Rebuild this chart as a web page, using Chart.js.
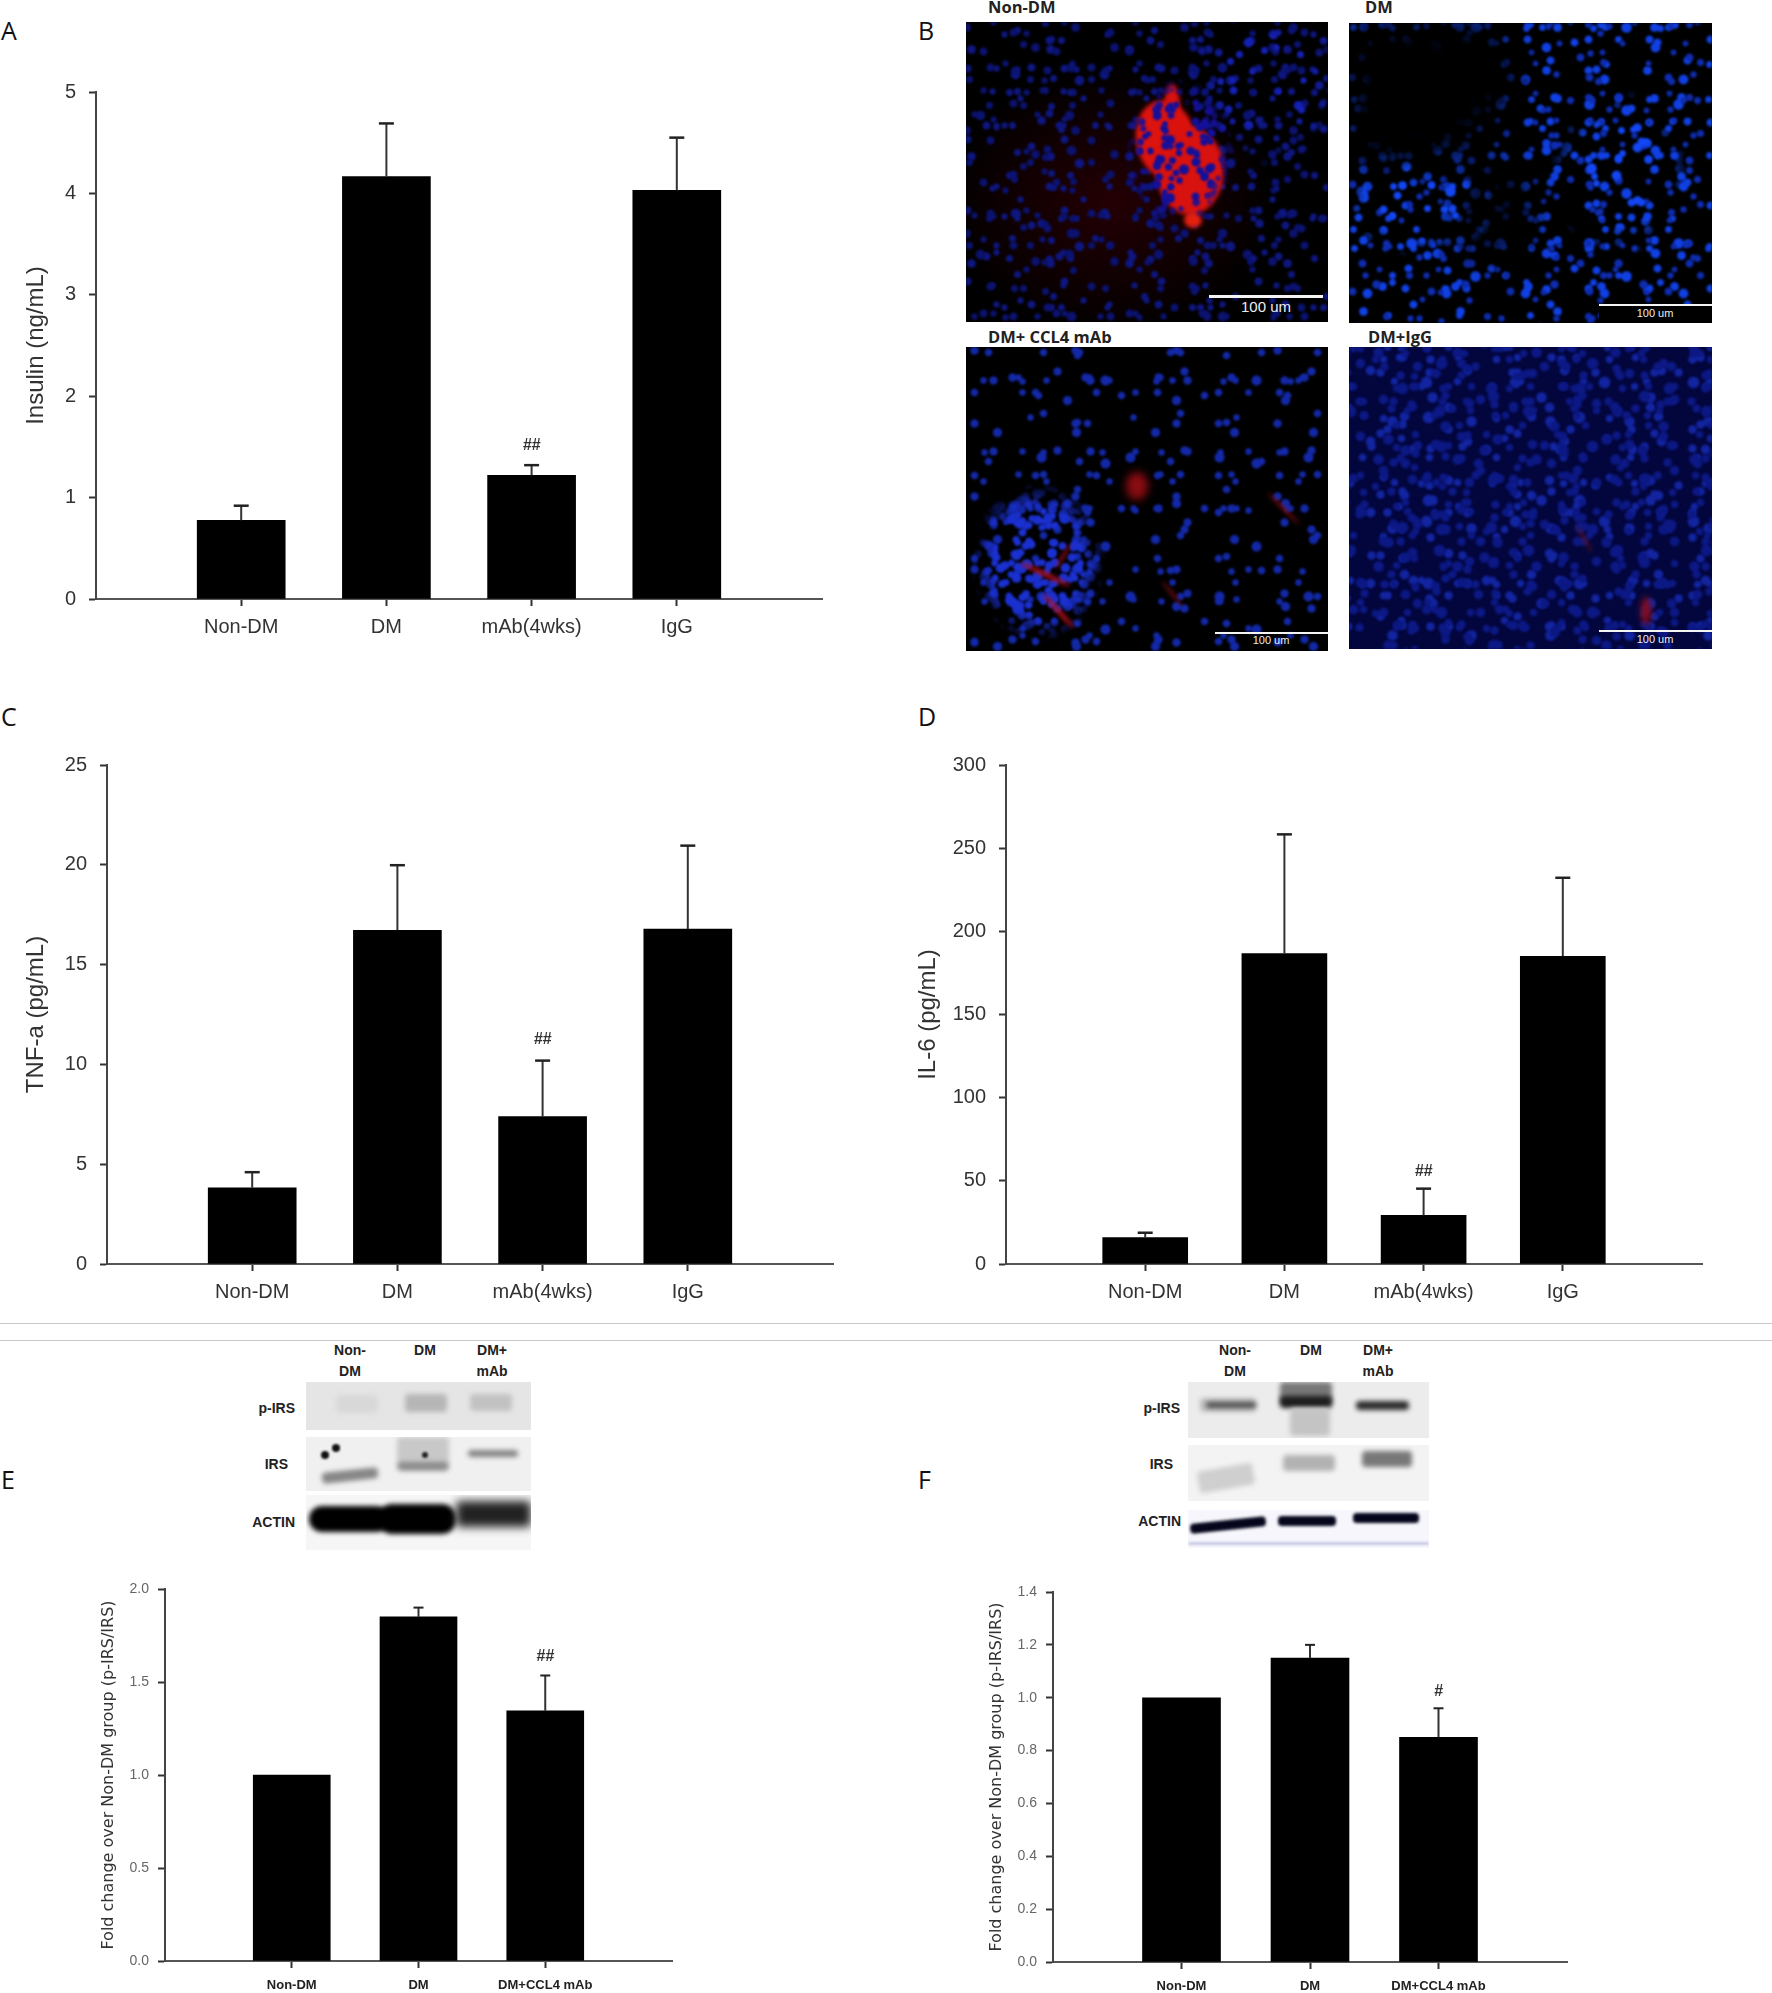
<!DOCTYPE html>
<html>
<head>
<meta charset="utf-8">
<title>CCL4 mAb panels</title>
<script src="https://cdn.jsdelivr.net/npm/chart.js@4"></script>
<style>
html, body { margin: 0; padding: 0; background: #fff; }
#page { position: relative; width: 1772px; height: 1993px; overflow: hidden; font-family: "Liberation Sans", sans-serif; }
canvas { position: absolute; filter: blur(0.4px); }
.letter { position: absolute; font: 25px "Open Sans", sans-serif; color: #111; line-height: 30px; }
.rule { position: absolute; left: 0; width: 1772px; height: 1px; background: #c9c9c9; }
.tag { position: absolute; font: bold 16.5px "Open Sans", sans-serif; color: #222; line-height: 18px; white-space: nowrap; }
.micro { position: absolute; background: #000; overflow: hidden; }
.micro div { position: absolute; inset: 0; }
.micro .cells { filter: blur(1.2px); }
.micro .red { inset: auto; filter: blur(2px); border-radius: 50%; }
.bar100 { position: absolute; height: 3px; background: #f4f4f4; }
.um { position: absolute; color: #eee; text-align: center; white-space: nowrap; }
.blot { position: absolute; overflow: hidden; }
.band { position: absolute; filter: blur(2.5px); border-radius: 4px; }
.blab { position: absolute; font: bold 14px "Liberation Sans", sans-serif; color: #222; text-align: center; line-height: 21px; white-space: nowrap; }
</style>
</head>
<body>
<div id="page">
  <div class="letter" style="left:1px;top:15px">A</div>
  <div class="letter" style="left:918px;top:15px">B</div>
  <div class="letter" style="left:1px;top:701px">C</div>
  <div class="letter" style="left:918px;top:701px">D</div>
  <div class="letter" style="left:1px;top:1464px">E</div>
  <div class="letter" style="left:918px;top:1464px">F</div>

  <div class="rule" style="top:1323px"></div>
  <div class="rule" style="top:1340px"></div>

  <!-- micrographs of panel B -->
  <div class="tag" style="left:988px;top:-2px">Non-DM</div>
  <div class="tag" style="left:1365px;top:-2px">DM</div>
  <div class="tag" style="left:988px;top:328px">DM+ CCL4 mAb</div>
  <div class="tag" style="left:1368px;top:328px">DM+IgG</div>

  <div class="micro" style="left:966px;top:22px;width:362px;height:300px">
    <div style="background:radial-gradient(ellipse at 40% 60%, rgba(90,0,10,.4), transparent 55%)"></div>
    <div class="cells" data-color="#0e1680" data-seed="1" data-r="0.8"></div>
    <div class="cells" data-color="#0b1270" data-seed="12" data-r="0.8"></div>
    <div class="cells" data-color="#1420b4" data-seed="14" data-r="0.8" style="mask-image:radial-gradient(ellipse 90px 90px at 300px 60px,#000 50%,transparent 100%)"></div>
    <div class="red" style="left:170px;top:78px;width:60px;height:80px;background:#dd130d;transform:rotate(-12deg)"></div>
    <div class="red" style="left:190px;top:105px;width:68px;height:88px;background:#d8120e"></div>
    <div class="red" style="left:198px;top:62px;width:16px;height:44px;background:#d8120e"></div>
    <div class="red" style="left:218px;top:190px;width:18px;height:16px;background:#e3200e"></div>
    <div class="cells" data-color="#14109a" data-seed="4" data-scale="0.7" data-r="0.85" style="mask-image:radial-gradient(ellipse 55px 75px at 214px 130px,#000 70%,transparent 100%)"></div>
    <div class="cells" data-color="#14109a" data-seed="7" data-scale="0.7" data-r="0.7" style="mask-image:radial-gradient(ellipse 55px 75px at 214px 130px,#000 70%,transparent 100%)"></div>
  </div>
  <div class="bar100" style="left:1209px;top:295px;width:114px"></div>
  <div class="um" style="left:1236px;top:298px;width:60px;font:15px 'Liberation Sans',sans-serif">100 um</div>

  <div class="micro" style="left:1349px;top:23px;width:363px;height:300px">
    <div class="cells" data-color="#1040e4" data-seed="2" data-r="0.9"></div>
    <div class="cells" data-color="#0e2cb0" data-seed="13" data-r="0.7"></div>
    <div style="filter:blur(16px);background:radial-gradient(ellipse 36% 32% at 12% 18%, #000 0 85%, transparent 100%),radial-gradient(ellipse 13% 18% at 40% 62%, rgba(0,0,0,.8) 0 80%, transparent 100%)"></div>
    <div class="cells" data-color="#1246f4" data-seed="5" data-r="0.9" style="mask-image:radial-gradient(ellipse 85px 55px at 70px 180px,#000 60%,transparent 100%)"></div>
    <div class="cells" data-color="#1246f4" data-seed="9" data-r="0.9" style="mask-image:radial-gradient(ellipse 70px 85px at 270px 150px,#000 60%,transparent 100%)"></div>
    <div style="left:250px;top:282px;background:#000"></div>
  </div>
  <div class="bar100" style="left:1599px;top:304px;width:113px;height:2px"></div>
  <div class="um" style="left:1625px;top:307px;width:60px;font:11px 'Liberation Sans',sans-serif">100 um</div>

  <div class="micro" style="left:966px;top:347px;width:362px;height:304px">
    <div class="cells" data-color="#1328a8" data-seed="3" data-r="0.85"></div>
    <div class="cells" data-color="#1a30d0" data-seed="6" data-scale="0.6" data-r="0.9" style="mask-image:radial-gradient(ellipse 68px 80px at 72px 215px,#000 65%,transparent 100%)"></div>
    <div class="cells" data-color="#1a30d0" data-seed="8" data-scale="0.6" data-r="0.9" style="mask-image:radial-gradient(ellipse 68px 80px at 72px 215px,#000 65%,transparent 100%)"></div>
    <div class="red" style="left:70px;top:262px;width:45px;height:4px;background:#c8101c;transform:rotate(48deg)"></div>
    <div class="red" style="left:52px;top:225px;width:55px;height:5px;background:#a80e1a;transform:rotate(25deg)"></div>
    <div class="red" style="left:82px;top:208px;width:30px;height:3px;background:#a00e18;transform:rotate(-60deg)"></div>
    <div class="red" style="left:160px;top:125px;width:22px;height:28px;background:#8a0c12;filter:blur(4px)"></div>
    <div class="red" style="left:295px;top:160px;width:45px;height:3px;background:#8a0c12;transform:rotate(45deg)"></div>
    <div class="red" style="left:190px;top:245px;width:32px;height:3px;background:#7a0c12;transform:rotate(50deg)"></div>
  </div>
  <div class="bar100" style="left:1215px;top:632px;width:113px;height:2px"></div>
  <div class="um" style="left:1241px;top:634px;width:60px;font:11px 'Liberation Sans',sans-serif">100 um</div>

  <div class="micro" style="left:1349px;top:347px;width:363px;height:302px">
    <div style="background:#03063c"></div>
    <div class="cells" data-color="#1224a0" data-seed="10"></div>
    <div class="cells" data-color="#0c1884" data-seed="11"></div>
    <div class="cells" data-color="#0c1884" data-seed="15"></div>
    <div class="red" style="left:292px;top:250px;width:10px;height:28px;background:#8a0c18;filter:blur(3px)"></div>
    <div class="red" style="left:220px;top:190px;width:30px;height:3px;background:#60101c;transform:rotate(60deg)"></div>
  </div>
  <div class="bar100" style="left:1599px;top:630px;width:113px;height:2px"></div>
  <div class="um" style="left:1625px;top:633px;width:60px;font:11px 'Liberation Sans',sans-serif">100 um</div>

  <!-- western blots of panel E -->
  <div class="blab" style="left:325px;top:1340px;width:50px">Non-<br>DM</div>
  <div class="blab" style="left:400px;top:1340px;width:50px">DM</div>
  <div class="blab" style="left:467px;top:1340px;width:50px">DM+<br>mAb</div>
  <div class="blab" style="left:245px;top:1398px;width:50px;text-align:right">p-IRS</div>
  <div class="blab" style="left:238px;top:1454px;width:50px;text-align:right">IRS</div>
  <div class="blab" style="left:235px;top:1512px;width:60px;text-align:right">ACTIN</div>

  <div class="blot" style="left:306px;top:1382px;width:225px;height:48px;background:#e5e5e5">
    <div class="band" style="left:30px;top:13px;width:42px;height:18px;background:#d8d8d8"></div>
    <div class="band" style="left:99px;top:12px;width:42px;height:18px;background:#b6b6b6"></div>
    <div class="band" style="left:164px;top:12px;width:42px;height:17px;background:#c2c2c2"></div>
  </div>
  <div class="blot" style="left:306px;top:1437px;width:225px;height:54px;background:#f0f0f0">
    <div class="band" style="left:16px;top:33px;width:56px;height:11px;background:#868686;transform:rotate(-6deg)"></div>
    <div class="band" style="left:91px;top:0;width:52px;height:34px;background:#c8c8c8"></div>
    <div class="band" style="left:92px;top:25px;width:50px;height:8px;background:#8a8a8a"></div>
    <div class="band" style="left:162px;top:13px;width:50px;height:7px;background:#858585"></div>
    <div class="band" style="left:15px;top:14px;width:8px;height:8px;background:#111;filter:blur(1px)"></div>
    <div class="band" style="left:26px;top:7px;width:8px;height:8px;background:#111;filter:blur(1px)"></div>
    <div class="band" style="left:116px;top:15px;width:6px;height:6px;background:#222;filter:blur(1px)"></div>
  </div>
  <div class="blot" style="left:306px;top:1495px;width:225px;height:55px;background:#f6f6f6">
    <div class="band" style="left:3px;top:11px;width:80px;height:26px;background:#000;border-radius:14px"></div>
    <div class="band" style="left:72px;top:9px;width:78px;height:30px;background:#000;border-radius:14px"></div>
    <div class="band" style="left:150px;top:6px;width:75px;height:26px;background:#222;filter:blur(5px)"></div>
  </div>

  <!-- western blots of panel F -->
  <div class="blab" style="left:1210px;top:1340px;width:50px">Non-<br>DM</div>
  <div class="blab" style="left:1286px;top:1340px;width:50px">DM</div>
  <div class="blab" style="left:1353px;top:1340px;width:50px">DM+<br>mAb</div>
  <div class="blab" style="left:1130px;top:1398px;width:50px;text-align:right">p-IRS</div>
  <div class="blab" style="left:1123px;top:1454px;width:50px;text-align:right">IRS</div>
  <div class="blab" style="left:1121px;top:1511px;width:60px;text-align:right">ACTIN</div>

  <div class="blot" style="left:1188px;top:1382px;width:241px;height:56px;background:#ececec">
    <div class="band" style="left:12px;top:16px;width:56px;height:14px;background:#bdbdbd"></div>
    <div class="band" style="left:18px;top:20px;width:50px;height:6px;background:#4e4e4e"></div>
    <div class="band" style="left:92px;top:0;width:52px;height:22px;background:#777"></div>
    <div class="band" style="left:92px;top:14px;width:52px;height:12px;background:#1d1d1d"></div>
    <div class="band" style="left:102px;top:26px;width:40px;height:28px;background:#c4c4c4"></div>
    <div class="band" style="left:168px;top:19px;width:53px;height:9px;background:#2b2b2b"></div>
  </div>
  <div class="blot" style="left:1188px;top:1445px;width:241px;height:56px;background:#f3f3f3">
    <div class="band" style="left:10px;top:22px;width:56px;height:22px;background:#cfcfcf;transform:rotate(-10deg)"></div>
    <div class="band" style="left:95px;top:10px;width:52px;height:16px;background:#b2b2b2"></div>
    <div class="band" style="left:174px;top:6px;width:50px;height:16px;background:#787878"></div>
  </div>
  <div class="blot" style="left:1188px;top:1510px;width:241px;height:38px;background:#f6f6fc">
    <div class="band" style="left:2px;top:10px;width:76px;height:10px;background:#05051c;filter:blur(1.5px);transform:rotate(-6deg)"></div>
    <div class="band" style="left:90px;top:6px;width:58px;height:10px;background:#05051c;filter:blur(1.5px)"></div>
    <div class="band" style="left:165px;top:3px;width:66px;height:10px;background:#05051c;filter:blur(1.5px)"></div>
    <div class="band" style="left:0;top:32px;width:241px;height:3px;background:#c9c9e8;filter:blur(1px)"></div>
  </div>
</div>

<script>
const groupsFour = ['Non-DM', 'DM', 'mAb(4wks)', 'IgG'];
const groupsThree = ['Non-DM', 'DM', 'DM+CCL4 mAb'];

const insulinMeans = [0.775, 4.165, 1.22, 4.03];
const insulinTops = [0.92, 4.69, 1.32, 4.55];
const insulinTicks = [0, 1, 2, 3, 4, 5];

const tnfMeans = [3.82, 16.72, 7.38, 16.78];
const tnfTops = [4.6, 19.98, 10.19, 20.96];
const tnfTicks = [0, 5, 10, 15, 20, 25];

const il6Means = [15.9, 186.6, 29.2, 185];
const il6Tops = [18.8, 258.3, 45.3, 232.2];
const il6Ticks = [0, 50, 100, 150, 200, 250, 300];

const foldLeftMeans = [1, 1.85, 1.345];
const foldLeftTops = [null, 1.9, 1.535];
const foldLeftTicks = [0, 0.5, 1, 1.5, 2];

const foldRightMeans = [1, 1.15, 0.85];
const foldRightTops = [null, 1.2, 0.96];
const foldRightTicks = [0, 0.2, 0.4, 0.6, 0.8, 1, 1.2, 1.4];

const bigText = { tick: 20, title: 24, titleFamily: 'Liberation Sans', cat: 20, catStyle: 'normal', tickColor: '#333', catColor: '#333', tickPad: 13, catPad: 9 };
const smallText = { tick: 14, title: 16, titleFamily: 'DejaVu Sans', cat: 13, catStyle: 'bold', tickColor: '#666', catColor: '#222', tickPad: 9, catPad: 10 };

// texture for the micrographs, tile sizes are coprime so the dots do not line up
const cellTiles = [[61,83,3.5],[97,71,4],[113,59,3],[79,107,4.5],[131,89,3.5],[67,127,3],[101,73,4],[89,139,5],[149,67,3.5],[71,97,3],
    [127,79,4],[83,113,3.5],[109,103,4.5],[59,149,3],[137,61,3.5],[73,131,4],[103,91,3],[151,83,5],[91,109,3.5],[63,101,3]];

document.querySelectorAll('.cells').forEach(el => {
    const seed = Number(el.dataset.seed);
    const k = Number(el.dataset.scale || 1);
    const q = Number(el.dataset.r || 1);
    el.style.background = cellTiles.map(([w, h, r], i) => {
        const tw = Math.round(w * k), th = Math.round(h * k);
        return `radial-gradient(circle, ${el.dataset.color} 0 ${r * q}px, transparent ${r * q + 1.5}px) ` +
            `${(i * 37 + seed * 13) % tw}px ${(i * 53 + seed * 29) % th}px/${tw}px ${th}px`;
    }).join(',');
});

// draws the error whiskers and the ## marks from the values, through the scales
const whiskers = {
    id: 'whiskers',
    afterDatasetsDraw(chart, args, opts) {
        const { ctx, scales } = chart;
        opts.tops.forEach((top, i) => {
            if (top === null) return;
            const x = scales.x.getPixelForValue(i + 1);
            const yTop = scales.y.getPixelForValue(top);
            const yBar = scales.y.getPixelForValue(opts.means[i]);
            ctx.save();
            ctx.strokeStyle = '#333';
            ctx.lineWidth = 2;
            ctx.beginPath();
            ctx.moveTo(x, yBar);
            ctx.lineTo(x, yTop);
            ctx.stroke();
            ctx.strokeStyle = '#222';
            ctx.lineWidth = opts.capWidth;
            ctx.beginPath();
            ctx.moveTo(x - opts.cap, yTop);
            ctx.lineTo(x + opts.cap, yTop);
            ctx.stroke();
            if (i === opts.markAt) {
                ctx.fillStyle = '#333';
                ctx.font = 'italic bold 16px "Liberation Sans"';
                ctx.textAlign = 'center';
                ctx.textBaseline = 'middle';
                ctx.fillText(opts.mark, x, yTop - opts.markGap);
            }
            ctx.restore();
        });
    }
};

function drawPanel(p) {
    const left = p.titleX - 20;
    const top = p.topY - 40;
    const canvas = document.createElement('canvas');
    canvas.width = p.rightX - left + 10;
    canvas.height = p.zeroY + 50 - top;
    canvas.style.left = left + 'px';
    canvas.style.top = top + 'px';
    document.getElementById('page').appendChild(canvas);

    const t = p.text;
    new Chart(canvas.getContext('2d'), {
        type: 'bar',
        data: {
            labels: ['', ...p.groups, ''],
            datasets: [{
                data: [null, ...p.means, null],
                backgroundColor: '#000',
                barThickness: p.barW
            }]
        },
        plugins: [whiskers],
        options: {
            responsive: false,
            animation: false,
            layout: { padding: { top: 40, right: 10, left: 0, bottom: 0 } },
            plugins: {
                legend: { display: false },
                tooltip: { enabled: false },
                whiskers: {
                    tops: p.tops, means: p.means, markAt: 2, mark: p.mark, markGap: p.markGap,
                    cap: p.cap, capWidth: p.capWidth
                }
            },
            scales: {
                x: {
                    offset: false,
                    afterFit: s => { s.height = 50; },
                    border: { color: '#555', width: 2 },
                    grid: {
                        offset: false,
                        drawOnChartArea: false,
                        tickLength: 7,
                        tickWidth: 2,
                        tickColor: c => (c.tick && c.tick.label ? '#333' : 'transparent')
                    },
                    ticks: {
                        autoSkip: false,
                        maxRotation: 0,
                        padding: t.catPad,
                        color: t.catColor,
                        font: { family: 'Liberation Sans', size: t.cat, weight: t.catStyle }
                    }
                },
                y: {
                    min: p.yTicks[0],
                    max: p.yTicks[p.yTicks.length - 1],
                    afterFit: s => { s.width = p.axisX - left; },
                    afterBuildTicks: s => { s.ticks = p.yTicks.map(v => ({ value: v })); },
                    border: { color: '#444', width: 2 },
                    grid: { drawOnChartArea: false, tickLength: 7, tickWidth: 2, tickColor: '#333' },
                    ticks: {
                        padding: t.tickPad,
                        color: t.tickColor,
                        font: { family: 'Liberation Sans', size: t.tick },
                        callback: v => v.toFixed(p.digits)
                    },
                    title: {
                        display: true,
                        text: p.title,
                        color: '#333',
                        font: { family: t.titleFamily, size: t.title },
                        padding: { top: 20 - t.title * 0.6, bottom: 0 }
                    }
                }
            }
        }
    });
}

drawPanel({ groups: groupsFour, means: insulinMeans, tops: insulinTops, yTicks: insulinTicks, digits: 0, title: 'Insulin (ng/mL)',
    titleX: 36, axisX: 96, topY: 92, zeroY: 599, rightX: 822, barW: 88, cap: 7.5, capWidth: 2.5, mark: '##', markGap: 20, text: bigText });
drawPanel({ groups: groupsFour, means: tnfMeans, tops: tnfTops, yTicks: tnfTicks, digits: 0, title: 'TNF-a (pg/mL)',
    titleX: 36, axisX: 107, topY: 765, zeroY: 1264, rightX: 833, barW: 88, cap: 7.5, capWidth: 2.5, mark: '##', markGap: 21, text: bigText });
drawPanel({ groups: groupsFour, means: il6Means, tops: il6Tops, yTicks: il6Ticks, digits: 0, title: 'IL-6 (pg/mL)',
    titleX: 928, axisX: 1006, topY: 765, zeroY: 1264, rightX: 1702, barW: 85, cap: 7.5, capWidth: 2.5, mark: '##', markGap: 17, text: bigText });
drawPanel({ groups: groupsThree, means: foldLeftMeans, tops: foldLeftTops, yTicks: foldLeftTicks, digits: 1, title: 'Fold change over Non-DM group (p-IRS/IRS)',
    titleX: 109, axisX: 165, topY: 1589, zeroY: 1961, rightX: 672, barW: 77, cap: 5, capWidth: 2, mark: '##', markGap: 19, text: smallText });
drawPanel({ groups: groupsThree, means: foldRightMeans, tops: foldRightTops, yTicks: foldRightTicks, digits: 1, title: 'Fold change over Non-DM group (p-IRS/IRS)',
    titleX: 997, axisX: 1053, topY: 1592, zeroY: 1962, rightX: 1567, barW: 78, cap: 5, capWidth: 2, mark: '#', markGap: 17, text: smallText });
</script>
</body>
</html>
